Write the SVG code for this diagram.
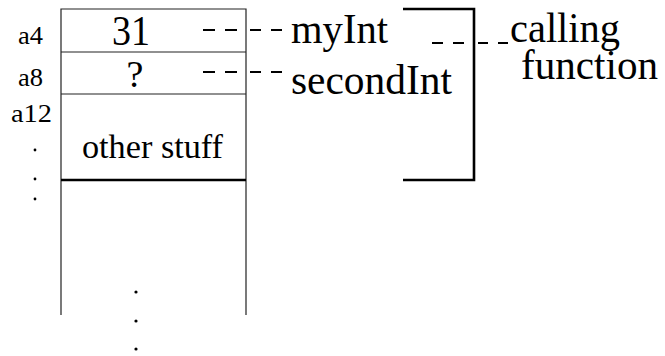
<svg xmlns="http://www.w3.org/2000/svg" width="665" height="356" viewBox="0 0 665 356">
<style>
text{font-family:"Liberation Serif","Times New Roman",serif;fill:#000}
.thin{stroke:#222;stroke-width:1.2;fill:none}
.dash{stroke:#000;stroke-width:2;fill:none}
.thick{stroke:#000;stroke-width:2.6;fill:none}
</style>
<rect width="665" height="356" fill="#fff"/>
<g id="stack">
<polyline class="thin" points="61,315 61,9 246,9 246,315"/>
<line class="thin" x1="61" y1="52" x2="246" y2="52"/>
<line class="thin" x1="61" y1="94" x2="246" y2="94"/>
<line class="thick" x1="61" y1="180" x2="246" y2="180"/>
</g>
<g id="cell-myInt">
<text x="131" y="45" font-size="43" text-anchor="middle" textLength="38" lengthAdjust="spacingAndGlyphs">31</text>
</g>
<g id="cell-secondInt">
<text x="135" y="87" font-size="38" text-anchor="middle">?</text>
</g>
<g id="cell-other">
<text x="82" y="158" font-size="34" textLength="141" lengthAdjust="spacingAndGlyphs">other stuff</text>
</g>
<g id="addresses">
<text x="18" y="44" font-size="26" textLength="25" lengthAdjust="spacingAndGlyphs">a4</text>
<text x="18" y="86" font-size="26" textLength="25" lengthAdjust="spacingAndGlyphs">a8</text>
<text x="11" y="122" font-size="26" textLength="41" lengthAdjust="spacingAndGlyphs">a12</text>
<circle cx="35" cy="150" r="1.4"/>
<circle cx="35" cy="179" r="1.4"/>
<circle cx="35" cy="199" r="1.4"/>
</g>
<g id="more">
<circle cx="136" cy="292" r="1.6"/>
<circle cx="136" cy="321" r="1.6"/>
<circle cx="136" cy="349" r="1.6"/>
</g>
<g id="label-myInt">
<text x="291" y="43" font-size="42" textLength="97" lengthAdjust="spacingAndGlyphs">myInt</text>
</g>
<g id="label-secondInt">
<text x="291" y="94" font-size="42" textLength="161" lengthAdjust="spacingAndGlyphs">secondInt</text>
</g>
<g id="label-calling">
<text x="510" y="42" font-size="43" textLength="110" lengthAdjust="spacingAndGlyphs">calling</text>
<text x="521" y="79" font-size="43" textLength="137" lengthAdjust="spacingAndGlyphs">function</text>
</g>
<g id="connectors">
<line class="dash" x1="203" y1="30" x2="237" y2="30" stroke-dasharray="12 10"/>
<line class="dash" x1="250" y1="30" x2="282" y2="30" stroke-dasharray="11 10"/>
<line class="dash" x1="203" y1="72" x2="237" y2="72" stroke-dasharray="12 10"/>
<line class="dash" x1="250" y1="72" x2="282" y2="72" stroke-dasharray="11 10"/>
<polyline class="thick" points="403,9 474,9 474,180 403,180"/>
<line class="dash" x1="432" y1="43" x2="465" y2="43" stroke-dasharray="11 10"/>
<line class="dash" x1="478" y1="43" x2="508" y2="43" stroke-dasharray="10 10"/>
</g>
</svg>
